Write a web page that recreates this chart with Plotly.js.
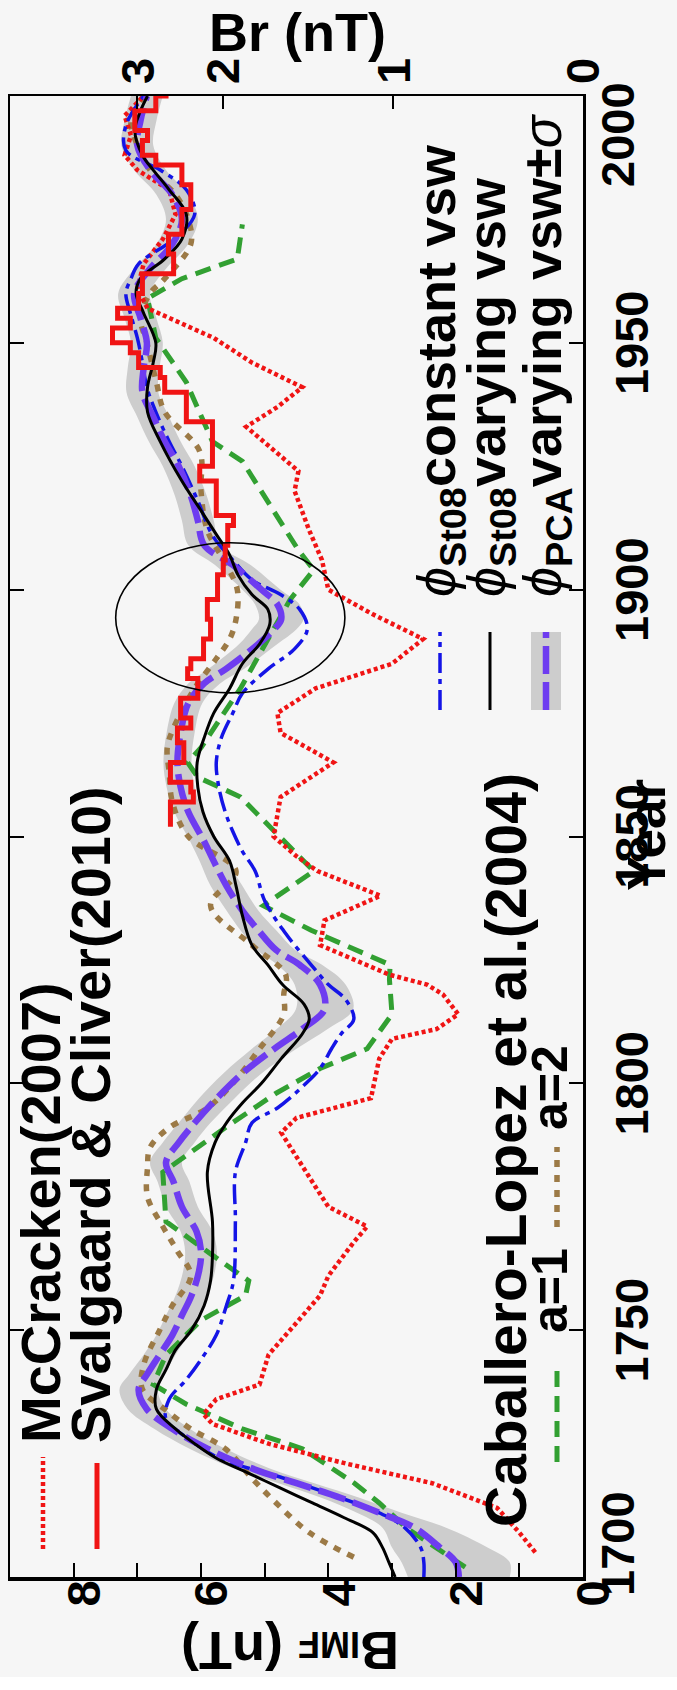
<!DOCTYPE html>
<html>
<head>
<meta charset="utf-8">
<script src="https://cdn.plot.ly/plotly-3.0.1.min.js"></script>
<style>
  html, body { margin: 0; padding: 0; background: #ffffff; overflow: hidden; }
  #frame { position: absolute; left: 0; top: 0; width: 677px; height: 1690px; overflow: hidden; }
  /* the figure is laid out landscape and turned a quarter turn counter-clockwise */
  #chart { position: absolute; left: 0; top: 0; width: 1690px; height: 677px;
           transform-origin: 0 0; transform: translate(0px, 1690px) rotate(-90deg); }
</style>
</head>
<body>
<div id="frame"><div id="chart"></div></div>
<script>
// ---------- data (year, B_IMF in nT) ----------
const stVaryYears = [1700,1703,1706,1709,1712,1715,1718,1721,1724,1727,1730,1734,1738,1742,1746,1750,1755,1760,1765,1772,1782,1788,1792,1796,1800,1805,1810,1813,1816,1820,1824,1828,1834,1840,1845,1850,1855,1860,1865,1870,1875,1880,1885,1889,1893,1896,1899,1903,1907,1911,1916,1922,1930,1936,1941,1946,1950,1956,1960,1963,1967,1971,1976,1981,1985,1988,1993,1997,2000];
const stVaryVals  = [2.95,3.05,3.15,3.3,3.75,4.25,4.75,5.25,5.75,6.1,6.4,6.7,6.7,6.55,6.4,6.15,5.95,5.85,5.82,5.82,5.9,5.78,5.6,5.35,5.05,4.74,4.41,4.3,4.38,4.72,4.95,5.2,5.35,5.45,5.55,5.8,5.97,6.05,6.06,5.95,5.8,5.55,5.35,5.08,4.92,4.95,5.2,5.42,5.55,5.75,6.0,6.3,6.64,6.84,6.84,6.75,6.71,6.9,7.02,6.95,6.57,6.3,6.23,6.5,6.75,6.92,7.04,6.95,6.84];

const stConstYears = [1700,1703,1706,1710,1713,1716,1720,1724,1728,1732,1736,1740,1745,1749,1755,1760,1772,1782,1788,1792,1795,1800,1803,1807,1810,1813,1817,1820,1824,1830,1837,1843,1847,1851,1855,1860,1865,1870,1875,1879,1884,1888,1892,1896,1899,1902,1906,1911,1918,1925,1930,1936,1941,1946,1951,1956,1960,1963,1966,1971,1976,1981,1985,1989,1994,2000];
const stConstVals  = [2.5,2.5,2.55,2.8,3.2,3.8,4.7,5.7,6.2,6.55,6.5,6.23,5.95,5.76,5.6,5.49,5.46,5.46,5.3,5.2,4.8,4.35,4.13,3.95,3.8,3.6,3.73,4.0,4.27,4.65,5.0,5.15,5.35,5.5,5.62,5.72,5.76,5.68,5.5,5.35,4.94,4.53,4.33,4.45,4.75,5.2,5.5,5.82,6.05,6.3,6.5,6.71,6.85,6.92,7.0,7.11,7.18,7.1,6.98,6.43,6.1,6.23,6.64,7.18,7.18,6.9];

const pcaYears = [1700,1703,1706,1710,1713,1716,1719,1722,1726,1730,1734,1738,1741,1745,1749,1753,1757,1762,1766,1770,1775,1780,1784,1788,1792,1797,1802,1807,1811,1815,1820,1824,1827,1831,1835,1840,1845,1849,1855,1860,1865,1871,1877,1881,1884,1889,1892,1894,1897,1900,1905,1909,1914,1919,1925,1930,1935,1940,1945,1950,1955,1960,1965,1970,1975,1980,1985,1990,1995,2000];
const pcaMean  = [1.95,2.0,2.25,2.65,3.2,3.8,4.5,5.2,5.9,6.45,6.85,6.98,6.85,6.65,6.45,6.3,6.15,6.03,6.0,6.07,6.3,6.43,6.55,6.35,6.1,5.75,5.35,4.85,4.41,4.06,4.13,4.45,4.82,5.1,5.35,5.6,5.8,5.95,6.2,6.32,6.37,6.32,6.2,5.95,5.6,5.1,4.85,4.74,4.8,5.05,5.5,5.95,6.05,6.16,6.35,6.57,6.75,6.92,6.9,6.85,6.95,7.05,6.8,6.45,6.3,6.45,6.8,7.0,6.95,6.85];
const pcaSigma = [0.8,0.85,0.75,0.5,0.35,0.3,0.28,0.28,0.28,0.28,0.3,0.3,0.28,0.25,0.25,0.25,0.25,0.25,0.25,0.25,0.25,0.25,0.25,0.25,0.25,0.28,0.3,0.35,0.4,0.45,0.4,0.35,0.3,0.28,0.25,0.25,0.22,0.22,0.22,0.22,0.22,0.22,0.22,0.25,0.28,0.3,0.35,0.35,0.35,0.3,0.28,0.25,0.25,0.25,0.25,0.25,0.25,0.25,0.25,0.25,0.25,0.25,0.25,0.25,0.25,0.25,0.25,0.25,0.25,0.25];

const cl1Years = [1702,1706,1710,1715,1719,1726,1730,1735,1739,1745,1752,1757,1760,1765,1772,1782,1791,1798,1803,1807,1814,1821,1824,1831,1836,1843,1849,1858,1862,1865,1868,1880,1898,1904,1908,1926,1930,1942,1951,1959,1963,1967,1974];
const cl1Vals  = [1.85,2.3,2.78,3.2,3.59,4.41,5.35,6.23,6.75,6.55,6.0,5.3,5.25,5.8,6.55,6.6,5.62,4.82,4.13,3.39,3.0,3.04,3.03,4.27,5.02,4.23,4.7,5.38,6.05,6.21,6.0,5.38,4.6,4.23,4.47,5.35,5.82,6.23,6.71,6.84,6.3,5.43,5.35];

const cl2Years = [1704,1709,1715,1720,1726,1730,1734,1738,1743,1750,1755,1761,1766,1771,1777,1783,1787,1791,1795,1800,1807,1814,1818,1822,1828,1836,1843,1850,1857,1863,1868,1872,1880,1886,1890,1894,1900,1905,1912,1920,1928,1936,1942,1950,1955,1960,1963,1970,1975,1980,1985,1990,1995,2000];
const cl2Vals  = [3.6,4.3,4.82,5.2,5.62,6.16,6.57,6.92,6.9,6.65,6.45,6.16,6.37,6.6,6.84,6.84,6.8,6.5,5.9,5.5,5.08,4.7,4.7,4.67,5.2,5.85,5.45,6.2,6.45,6.5,6.53,6.43,6.1,5.76,5.55,5.45,5.43,5.6,5.9,6.0,6.02,6.57,6.7,6.85,6.95,6.8,6.57,6.16,6.2,6.4,6.8,7.0,7.1,6.9];

const mcYears = [1705,1709,1714,1719,1723,1727,1731,1733,1736,1739,1745,1751,1757,1761,1768,1771,1775,1779,1785,1790,1793,1797,1805,1809,1811,1814,1818,1820,1822,1828,1833,1838,1843,1846,1850,1858,1865,1871,1875,1880,1885,1890,1895,1900,1906,1912,1920,1924,1933,1937,1941,1946,1951,1957,1961,1966,1971,1976,1981,1985,1988,1992,1996,2000];
const mcVals  = [0.75,1.0,1.35,2.37,3.73,4.94,5.82,5.96,5.76,5.08,4.94,4.53,4.13,4.0,3.59,3.39,4.0,4.2,4.5,4.74,4.5,3.33,3.2,3.0,2.3,1.96,2.2,2.45,3.04,4.13,4.06,3.18,4.17,4.5,4.86,4.75,3.92,4.75,4.8,4.2,3.0,2.51,3.3,4.0,4.1,4.3,4.53,4.47,5.29,4.8,4.41,5.2,5.8,6.84,7.0,6.9,6.6,6.4,6.5,7.0,7.2,7.1,7.2,6.9];

const scYears = [1852,1857,1859,1861,1865,1869,1872,1874,1878,1882,1884,1886,1890,1894,1898,1903,1906,1909,1913,1915,1919,1922,1925,1930,1934,1937,1940,1943,1945,1948,1950,1953,1955,1957,1960,1964,1968,1972,1977,1982,1986,1988,1991,1993,1997,2000];
const scVals  = [6.48,6.12,6.16,6.48,6.27,6.37,6.16,6.32,6.05,6.21,6.16,5.96,5.85,5.90,5.74,5.65,5.62,5.58,5.49,5.76,5.76,6.02,5.82,5.82,6.23,6.23,6.57,6.64,6.98,7.11,7.39,7.11,7.31,6.98,6.92,6.43,6.51,6.30,6.16,6.30,6.71,6.92,6.84,7.04,6.71,6.51];

// axis ticks
const yearTicks = [1750, 1800, 1850, 1900, 1950];
const yearEnds = [1700, 2000];
const bimfTicks = [0, 2, 4, 6, 8];
const bimfMinor = [1, 3, 5, 7];
// B_r tick marks placed at the equivalent B_IMF value
const brTickBimf = [0, 2.98, 5.66, 7.0];
const brTickText = ['0', '1', '2', '3'];

// period highlighted by the ellipse
const highlightYears = [1879.1, 1909.5];
const highlightBimf = [3.74, 7.34];

// ---------- styling ----------
const FONT = 'Liberation Sans, Arial, Helvetica, sans-serif';
const BG = '#f6f6f6';
const RED = '#f01414', BLUE = '#1414e6', PURPLE = '#6e3cf0', GREEN = '#32a032', BROWN = '#9c7a46', GREY = '#cdcdcd';

const STY = {
  mc:    { color: RED,    width: 4.5, dash: '4px,3px' },
  sc:    { color: RED,    width: 5 },
  cl1:   { color: GREEN,  width: 5,   dash: '16px,9px' },
  cl2:   { color: BROWN,  width: 5.5, dash: '7px,8px' },
  const: { color: BLUE,   width: 3.5, dash: '20px,6px,5px,6px' },
  pca:   { color: PURPLE, width: 6.5, dash: '28px,8px' },
  vary:  { color: '#000', width: 3 }
};

const bandLow  = pcaMean.map((m, i) => m - pcaSigma[i]);
const bandHigh = pcaMean.map((m, i) => m + pcaSigma[i]);

const traces = [
  { x: pcaYears, y: bandLow,  mode: 'lines', line: { width: 0, shape: 'spline' }, hoverinfo: 'skip' },
  { x: pcaYears, y: bandHigh, mode: 'lines', line: { width: 0, shape: 'spline' }, fill: 'tonexty', fillcolor: GREY, hoverinfo: 'skip' },
  { x: cl1Years, y: cl1Vals, mode: 'lines', line: STY.cl1 },
  { x: cl2Years, y: cl2Vals, mode: 'lines', line: Object.assign({ shape: 'spline' }, STY.cl2) },
  { x: mcYears,  y: mcVals,  mode: 'lines', line: STY.mc },
  { x: stConstYears, y: stConstVals, mode: 'lines', line: Object.assign({ shape: 'spline' }, STY.const) },
  { x: pcaYears, y: pcaMean, mode: 'lines', line: Object.assign({ shape: 'spline' }, STY.pca) },
  { x: stVaryYears, y: stVaryVals, mode: 'lines', line: Object.assign({ shape: 'spline' }, STY.vary) },
  { x: scYears, y: scVals, mode: 'lines', line: Object.assign({ shape: 'hv' }, STY.sc) },
  // carries the B_r axis (same scale as B_IMF)
  { x: stVaryYears, y: stVaryVals, yaxis: 'y2', mode: 'lines', opacity: 0, line: { width: 0 }, hoverinfo: 'skip' }
];

// plot-area pixel helpers for the legend block (frame spans 100..1581 across, 10..583 down)
const PX = v => (v - 100) / 1481;
const PY = v => (583 - v) / 573;

function key(x0, x1, y, line) {
  return { type: 'line', xref: 'paper', yref: 'paper', x0: PX(x0), x1: PX(x1), y0: PY(y), y1: PY(y), line: line };
}
const shapes = [
  // white strip past the figure's edge
  { type: 'rect', xref: 'paper', yref: 'paper', x0: PX(-13), x1: PX(0), y0: -0.3, y1: 1.3,
    fillcolor: '#ffffff', line: { width: 0 }, layer: 'below' },
  { type: 'circle', xref: 'x', yref: 'y', x0: highlightYears[0], x1: highlightYears[1],
    y0: highlightBimf[0], y1: highlightBimf[1], line: { color: '#000', width: 1.6 } },
  key(128, 220, 43, STY.mc),
  key(128, 214, 97, STY.sc),
  key(215, 315, 557, STY.cl1),
  key(450, 530, 557, STY.cl2),
  key(967, 1045, 440, STY.const),
  key(967, 1045, 490, STY.vary),
  { type: 'rect', xref: 'paper', yref: 'paper', x0: PX(967), x1: PX(1045), y0: PY(561), y1: PY(531),
    fillcolor: GREY, line: { width: 0 } },
  key(967, 1045, 546, STY.pca)
];

const PHI = "<span style='font-weight:normal'><i>ϕ</i></span>";
function note(text, x, y, size) {
  return { text: text, xref: 'paper', yref: 'paper', x: PX(x), y: PY(y), xanchor: 'left', yanchor: 'middle',
           showarrow: false, font: { family: FONT, size: size, color: '#000', weight: 'bold' } };
}
const tickFont = { family: FONT, size: 47, weight: 'bold', color: '#000' };
const annotations = [
  note('McCracken(2007)', 232, 40, 56),
  note('Svalgaard &amp; Cliver(2010)', 232, 90, 56),
  note('Caballero-Lopez et al.(2004)', 148, 506, 57),
  note('a=1', 342, 550, 50),
  note('a=2', 545, 550, 50),
  note(PHI + '<sub>St08</sub>constant vsw', 1078, 440, 54),
  note(PHI + '<sub>St08</sub>varying vsw', 1078, 490, 54),
  note(PHI + '<sub>PCA</sub>varying vsw±<span style="font-weight:normal"><i>σ</i></span>', 1078, 546, 54),
  // end labels of the year axis sit inside the frame
  { text: String(yearEnds[0]), xref: 'x', yref: 'paper', x: yearEnds[0], y: 0, xanchor: 'center', yanchor: 'top',
    xshift: 33, yshift: -6, showarrow: false, font: tickFont },
  { text: String(yearEnds[1]), xref: 'x', yref: 'paper', x: yearEnds[1], y: 0, xanchor: 'center', yanchor: 'top',
    xshift: -39, yshift: -6, showarrow: false, font: tickFont },
  // axis titles
  { text: 'Year', xref: 'paper', yref: 'paper', x: PX(842), y: PY(646), xanchor: 'center', yanchor: 'middle',
    showarrow: false, font: { family: FONT, size: 53, weight: 'bold', color: '#000' } },
  { text: "B<span style='font-size:36px'>IMF</span> (nT)", xref: 'paper', yref: 'paper', x: PX(26), y: PY(290),
    xanchor: 'center', yanchor: 'middle', textangle: -90, showarrow: false,
    font: { family: FONT, size: 54, weight: 'bold', color: '#000' } },
  { text: 'Br (nT)', xref: 'paper', yref: 'paper', x: PX(1645), y: PY(297), xanchor: 'center', yanchor: 'middle',
    textangle: 90, showarrow: false, font: { family: FONT, size: 54, weight: 'bold', color: '#000' } }
];

const layout = {
  width: 1690, height: 677,
  margin: { l: 113, r: 96, t: 10, b: 94, pad: 0 },
  paper_bgcolor: BG, plot_bgcolor: BG,
  showlegend: false,
  font: { family: FONT, size: 47, color: '#000', weight: 'bold' },
  xaxis: {
    range: [yearEnds[0], yearEnds[1]], tickmode: 'array', tickvals: yearTicks, ticktext: yearTicks.map(String),
    ticks: 'inside', ticklen: 14, tickwidth: 2, tickcolor: '#000',
    showline: true, linewidth: 2.5, linecolor: '#000', mirror: 'ticks',
    showgrid: false, zeroline: false, ticklabelstandoff: 6, tickfont: tickFont
  },
  yaxis: {
    range: [0, 9], tickmode: 'array', tickvals: bimfTicks, ticktext: bimfTicks.map(String),
    ticks: 'inside', ticklen: 14, tickwidth: 2, tickcolor: '#000',
    minor: { tickmode: 'array', tickvals: bimfMinor, ticks: 'inside', ticklen: 14, tickwidth: 2, tickcolor: '#000' },
    showline: true, linewidth: 4, linecolor: '#000',
    showgrid: false, zeroline: false, ticklabelshift: 10, ticklabelstandoff: -10, tickfont: tickFont
  },
  yaxis2: {
    overlaying: 'y', side: 'right', range: [0, 9], tickmode: 'array', tickvals: brTickBimf, ticktext: brTickText,
    ticks: 'inside', ticklen: 13, tickwidth: 2, tickcolor: '#000',
    showline: true, linewidth: 2.5, linecolor: '#000',
    showgrid: false, zeroline: false, ticklabelstandoff: 0, tickfont: tickFont
  },
  shapes: shapes,
  annotations: annotations
};

Plotly.newPlot('chart', traces, layout, { staticPlot: true, displayModeBar: false });
</script>
</body>
</html>
